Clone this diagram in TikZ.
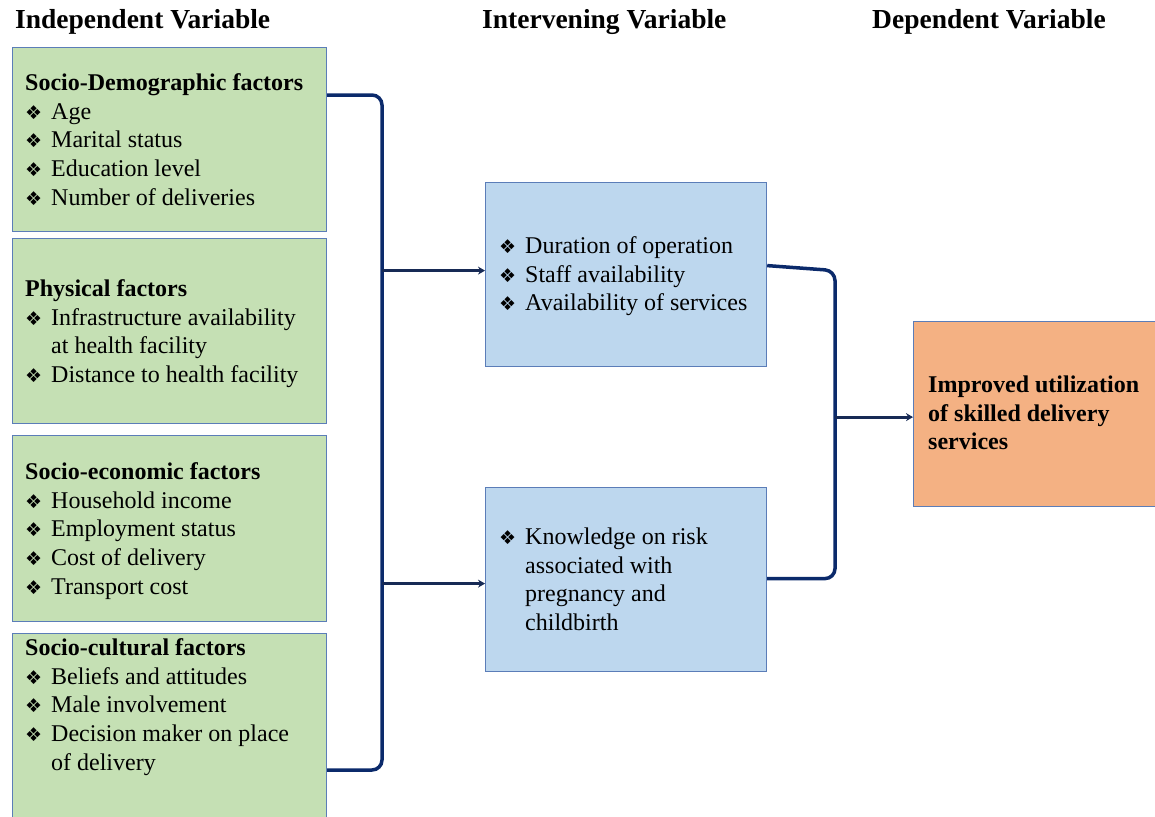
\documentclass[tikz,border=0pt]{standalone}
\usepackage{fontspec}
\setmainfont{Liberation Serif}
\newfontfamily\dejavu{DejaVu Sans}
\usetikzlibrary{arrows.meta}
\definecolor{gfill}{HTML}{C5E0B4}
\definecolor{bfill}{HTML}{BDD7EE}
\definecolor{ofill}{HTML}{F4B183}
\definecolor{bordc}{HTML}{5B7DB8}
\definecolor{navy}{HTML}{0B2A6B}
\definecolor{arrc}{HTML}{172A55}
\newcommand{\bul}{\makebox[26pt][l]{\dejavu\fontsize{19}{19}\selectfont ❖}}
\newcommand{\cont}{\hspace*{26pt}}
\begin{document}
\begin{tikzpicture}[x=1pt,y=-1pt,
  box/.style={draw=bordc, line width=1.2pt, inner sep=0pt, anchor=north west, minimum width=314pt},
  gbox/.style={box, fill=gfill},
  bbox/.style={box, fill=bfill, minimum width=281pt, minimum height=184pt},
  obox/.style={box, fill=ofill, minimum width=250pt, minimum height=185pt},
  txt/.style={anchor=north west, inner sep=0pt, font=\fontsize{24}{28.8}\selectfont},
  hdr/.style={anchor=base west, inner sep=0pt, font=\bfseries\fontsize{27.5}{30}\selectfont},
  conn/.style={draw=navy, line width=3.5pt, rounded corners=10pt},
  arr/.style={draw=arrc, line width=3pt, -{Stealth[length=7pt,width=8pt]}}]
\useasboundingbox (0,0) rectangle (1155,816);
% headers
\node[hdr] (h1) at (15,29) {Independent Variable};
\node[hdr] (h2) at (482,29) {Intervening Variable};
\node[hdr] (h3) at (872,29) {Dependent Variable};
% green boxes
\node[gbox, minimum height=184pt] (g1) at (12,47) {};
\node[gbox, minimum height=185pt] (g2) at (12,238) {};
\node[gbox, minimum height=186pt] (g3) at (12,435) {};
\node[gbox, minimum height=200pt] (g4) at (12,633) {};
% blue boxes
\node[bbox] (b1) at (485,182) {};
\node[bbox] (b2) at (485,487) {};
% orange box
\node[obox] (o1) at (913,321) {};
% texts
\node[txt] (t1) at (25,70) {\begin{tabular}{@{}l@{}}\textbf{Socio-Demographic factors}\\ \bul Age\\ \bul Marital status\\ \bul Education level\\ \bul Number of deliveries\end{tabular}};
\node[txt] (t2) at (25,276) {\begin{tabular}{@{}l@{}}\textbf{Physical factors}\\ \bul Infrastructure availability\\ \cont at health facility\\ \bul Distance to health facility\end{tabular}};
\node[txt] (t3) at (25,459) {\begin{tabular}{@{}l@{}}\textbf{Socio-economic factors}\\ \bul Household income\\ \bul Employment status\\ \bul Cost of delivery\\ \bul Transport cost\end{tabular}};
\node[txt] (t4) at (25,635) {\begin{tabular}{@{}l@{}}\textbf{Socio-cultural factors}\\ \bul Beliefs and attitudes\\ \bul Male involvement\\ \bul Decision maker on place\\ \cont of delivery\end{tabular}};
\node[txt] (t5) at (499,233) {\begin{tabular}{@{}l@{}}\bul Duration of operation\\ \bul Staff availability\\ \bul Availability of services\end{tabular}};
\node[txt] (t6) at (499,524) {\begin{tabular}{@{}l@{}}\bul Knowledge on risk\\ \cont associated with\\ \cont pregnancy and\\ \cont childbirth\end{tabular}};
\node[txt] (t7) at (928,372) {\begin{tabular}{@{}l@{}}\textbf{Improved utilization}\\ \textbf{of skilled delivery}\\ \textbf{services}\end{tabular}};
% junction coordinates
\coordinate (jl) at (382,0);
\coordinate (jr) at (835,0);
% left connector
\draw[conn] ([yshift=-48pt]g1.north east) -- ([yshift=-48pt]jl |- g1.north east) -- ([yshift=-137pt]jl |- g4.north east) -- ([yshift=-137pt]g4.north east);
\draw[arr] ([yshift=4pt]jl |- b1.west) -- ([yshift=4pt]b1.west);
\draw[arr] ([yshift=-4pt]jl |- b2.west) -- ([yshift=-4pt]b2.west);
% right connector
\draw[conn] ([yshift=9pt]b1.east) -- ([yshift=4pt]jr |- b1.east) -- ([yshift=1pt]jr |- b2.east) -- ([yshift=1pt]b2.east);
\draw[arr] ([yshift=-3pt]jr |- o1.west) -- ([yshift=-3pt]o1.west);
\end{tikzpicture}
\end{document}
